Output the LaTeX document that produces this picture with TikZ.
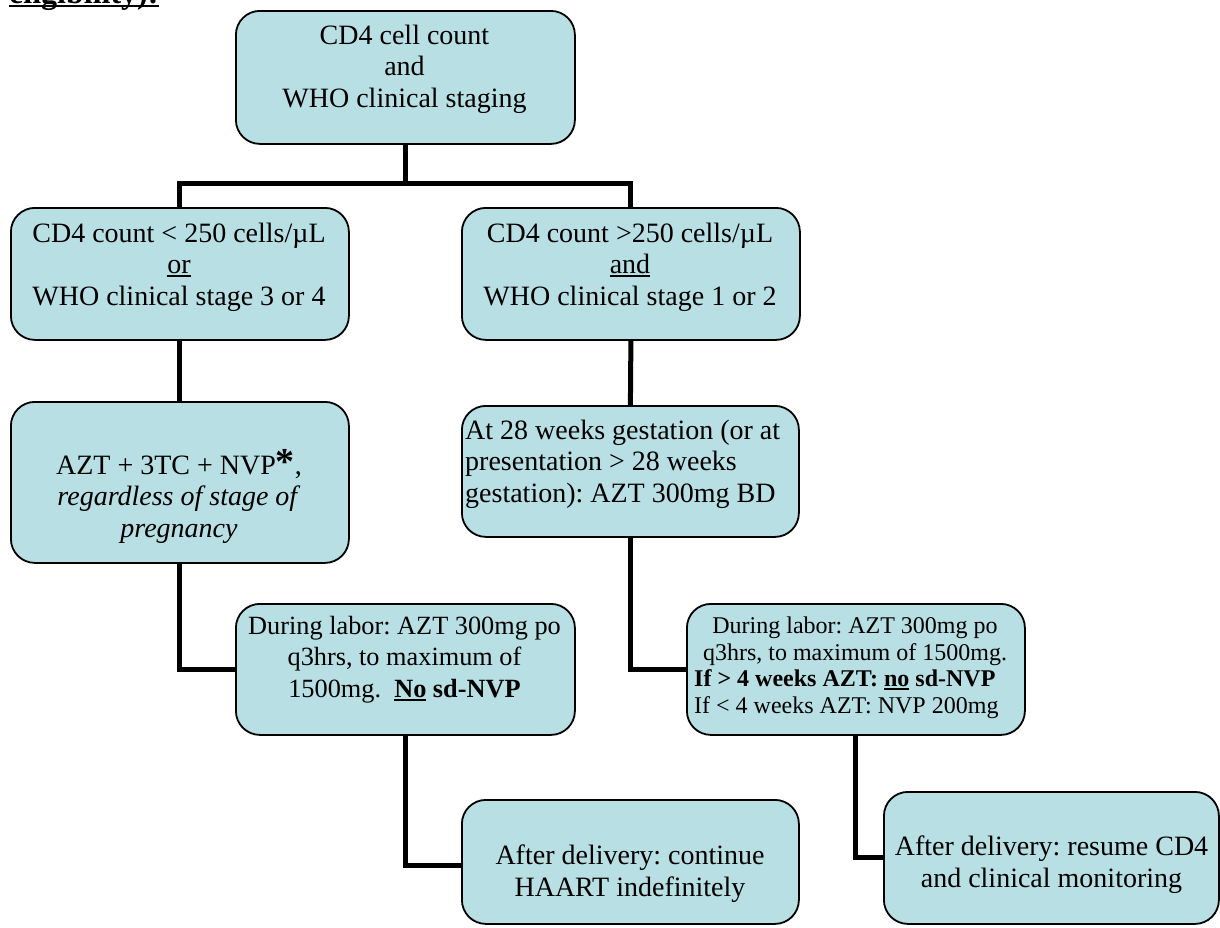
\documentclass[tikz,border=0pt]{standalone}
\usepackage{fontspec}
\setmainfont{Liberation Serif}
\usetikzlibrary{calc}
\frenchspacing
% underline with a rule of visible weight
\newcommand\ulx[1]{\setbox0\hbox{#1}\rlap{\rule[-3.5pt]{\wd0}{1.8pt}}\box0\relax}
\definecolor{boxfill}{RGB}{184,223,227}
\tikzset{
  stepbox/.style={draw=black, line width=1.8pt, fill=boxfill, rounded corners=24pt,
                  anchor=north west, inner sep=0pt},
  link/.style={line width=5pt},
  txt/.style={font=\fontsize{28}{31.5}\selectfont, align=center, inner sep=0pt},
  midtxt/.style={font=\fontsize{26.3}{31.5}\selectfont, align=center, inner sep=0pt},
  smalltxt/.style={font=\fontsize{24}{27}\selectfont, align=center, inner sep=0pt},
}
\begin{document}
\begin{tikzpicture}[x=1pt,y=-1pt]
\useasboundingbox (0,0) rectangle (1220,927);
\clip (0,0) rectangle (1220,927);

% heading, partly above the page edge
\node[font=\fontsize{32}{36}\selectfont\bfseries, anchor=base west, inner sep=0pt]
  (title) at (9,3) {\ulx{eligibility):}};

% boxes
\node[stepbox, minimum width=339pt, minimum height=133pt] (top) at (235,10) {};
\node[stepbox, minimum width=338pt, minimum height=132pt] (b2) at (10,207) {};
\node[stepbox, minimum width=338pt, minimum height=132pt] (b3) at (461,207) {};
\node[stepbox, minimum width=338pt, minimum height=161pt] (b4) at (10,401) {};
\node[stepbox, minimum width=337pt, minimum height=131pt] (b5) at (461,405) {};
\node[stepbox, minimum width=339pt, minimum height=131pt] (b6) at (235,603) {};
\node[stepbox, minimum width=338pt, minimum height=131pt] (b7) at (686,603) {};
\node[stepbox, minimum width=337pt, minimum height=124pt] (b8) at (461,799) {};
\node[stepbox, minimum width=335pt, minimum height=132pt] (b9) at (883,791) {};

% connectors
\coordinate (split) at ($(top.south)+(0,39)$);
\draw[link] (top.south) -- (split);
\draw[link] (b2.north) |- (split) -| (b3.north);
\draw[link] (b2.south) -- (b4.north);
\draw[link] (b3.south) -- (b5.north);
\draw[link] (b4.south) |- (b6.west);
\draw[link] (b5.south) |- (b7.west);
\draw[link] (b6.south) |- ([yshift=-4pt]b8.west);
\draw[link] (b7.south) |- (b9.west);

% texts (each placed by the baseline of its last line)
\node[txt, anchor=base] (ttop) at (404.5,107) {CD4 cell count\\and\\WHO clinical staging};
\node[txt, anchor=base] (t2) at (179,305) {CD4 count < 250 cells/µL\\\ulx{or}\\WHO clinical stage 3 or 4};
\node[txt, anchor=base] (t3) at (630,305) {CD4 count >250 cells/µL\\\ulx{and}\\WHO clinical stage 1 or 2};
\node[txt, anchor=base] (t4) at (179,537)
  {AZT + 3TC + NVP{\fontsize{38}{38}\selectfont\bfseries *},\\\textit{regardless of stage of}\\\textit{pregnancy}};
\node[txt, align=left, anchor=base west] (t5) at (465,502)
  {At 28 weeks gestation (or at\\presentation > 28 weeks\\gestation): AZT 300mg BD};
\node[midtxt, anchor=base] (t6) at (404.5,697)
  {During labor: AZT 300mg po\\q3hrs, to maximum of\\1500mg.\ \ \textbf{\ulx{No} sd-NVP}};
\node[smalltxt, anchor=base] (t7a) at (855,660)
  {During labor: AZT 300mg po\\q3hrs, to maximum of 1500mg.};
\node[smalltxt, align=left, anchor=base west] (t7b) at (694,713)
  {\textbf{If > 4 weeks AZT: \ulx{no} sd-NVP}\\If < 4 weeks AZT: NVP 200mg};
\node[txt, anchor=base] (t8) at (630,896) {After delivery: continue\\HAART indefinitely};
\node[txt, anchor=base] (t9) at (1051.5,887) {After delivery: resume CD4\\and clinical monitoring};
\end{tikzpicture}
\end{document}
